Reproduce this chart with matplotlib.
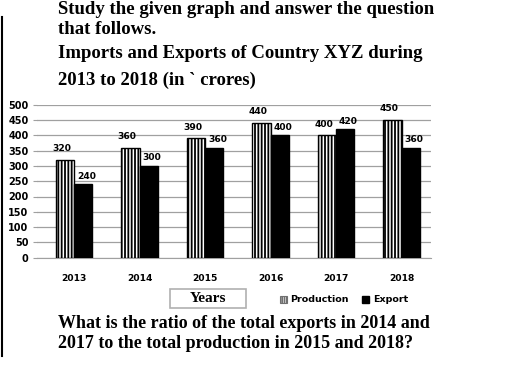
import numpy as np
import matplotlib
matplotlib.use("Agg")
import matplotlib.pyplot as plt
from matplotlib.patches import Rectangle

#========= Data ===========
years = ["2013", "2014", "2015", "2016", "2017", "2018"]
production = [320, 360, 390, 440, 400, 450]
export = [240, 300, 360, 400, 420, 360]
yticks = [0, 50, 100, 150, 200, 250, 300, 350, 400, 450, 500]

W, H = 520, 390
plt.rcParams['hatch.linewidth'] = 1.3

fig = plt.figure(figsize=(W/100, H/100), dpi=100)

def px(x, y):
    # pixel coords (from top-left) -> figure fraction
    return x/W, 1 - y/H

#========= Axes ===========
ax = fig.add_axes([37/W, 1 - 257.7/H, (431-37)/W, 153/H])
x = np.arange(len(years))
bw = 0.28
ax.bar(x - bw/2, production, bw, color="white", edgecolor="black",
       hatch="|||||", linewidth=1.0, zorder=3)
ax.bar(x + bw/2, export, bw, color="black", edgecolor="black",
       linewidth=1.0, zorder=3)

for i in range(len(years)):
    ax.text(x[i] - bw/2 - 0.05, production[i] + 22, str(production[i]),
            ha="center", va="bottom", fontsize=6.6, fontweight="bold")
    ax.text(x[i] + bw/2 + 0.05, export[i] + 12, str(export[i]),
            ha="center", va="bottom", fontsize=6.6, fontweight="bold")

ax.set_xlim(-0.565, 5.45)
ax.set_ylim(0, 500)
ax.set_yticks(yticks)
ax.set_yticklabels([str(v) for v in yticks], fontsize=7, fontweight="bold")
ax.set_xticks(x)
ax.set_xticklabels(years, fontsize=6.6, fontweight="bold")
ax.tick_params(axis="y", length=3, color="#a0a0a0", pad=3)
ax.tick_params(axis="x", length=0, pad=12)
ax.grid(axis="y", color="#a0a0a0", linewidth=0.9, zorder=0)
for s in ["top", "right", "left"]:
    ax.spines[s].set_visible(False)
ax.spines["bottom"].set_color("#a0a0a0")

#========= Text ===========
serif = dict(family="Liberation Serif", fontweight="bold",
             ha="left", va="center")
fig.text(*px(58, 9), "Study the given graph and answer the question",
         fontsize=13.5, **serif)
fig.text(*px(58, 30), "that follows.", fontsize=13.5, **serif)
fig.text(*px(58, 54), "Imports and Exports of Country XYZ during",
         fontsize=13.5, **serif)
fig.text(*px(58, 80), "2013 to 2018 (in ` crores)", fontsize=13.5, **serif)
fig.text(*px(58, 323), "What is the ratio of the total exports in 2014 and",
         fontsize=13.0, **serif)
fig.text(*px(58, 344), "2017 to the total production in 2015 and 2018?",
         fontsize=13.0, **serif)

# left border line
fig.add_artist(plt.Line2D([1.5/W, 1.5/W], [1 - 17/H, 1 - 356/H],
                          color="black", linewidth=1.5))

# Years box
fig.add_artist(Rectangle(px(170, 308), 76/W, 19/H, facecolor="white",
                         edgecolor="#b0b0b0", linewidth=1.2,
                         transform=fig.transFigure))
fig.text(*px(208, 298.5), "Years", family="Liberation Serif",
         fontweight="bold", fontsize=11, ha="center", va="center")

# legend
fig.add_artist(Rectangle(px(280, 303), 7/W, 7/H, facecolor="white",
                         edgecolor="#707070", hatch="|||||||", linewidth=0.8,
                         transform=fig.transFigure))
fig.text(*px(290, 299.5), "Production", fontsize=6.8, fontweight="bold",
         ha="left", va="center")
fig.add_artist(Rectangle(px(362, 303), 7/W, 7/H, facecolor="black",
                         edgecolor="black", transform=fig.transFigure))
fig.text(*px(373, 299.5), "Export", fontsize=6.8, fontweight="bold",
         ha="left", va="center")

fig.savefig("out.png", dpi=100)
